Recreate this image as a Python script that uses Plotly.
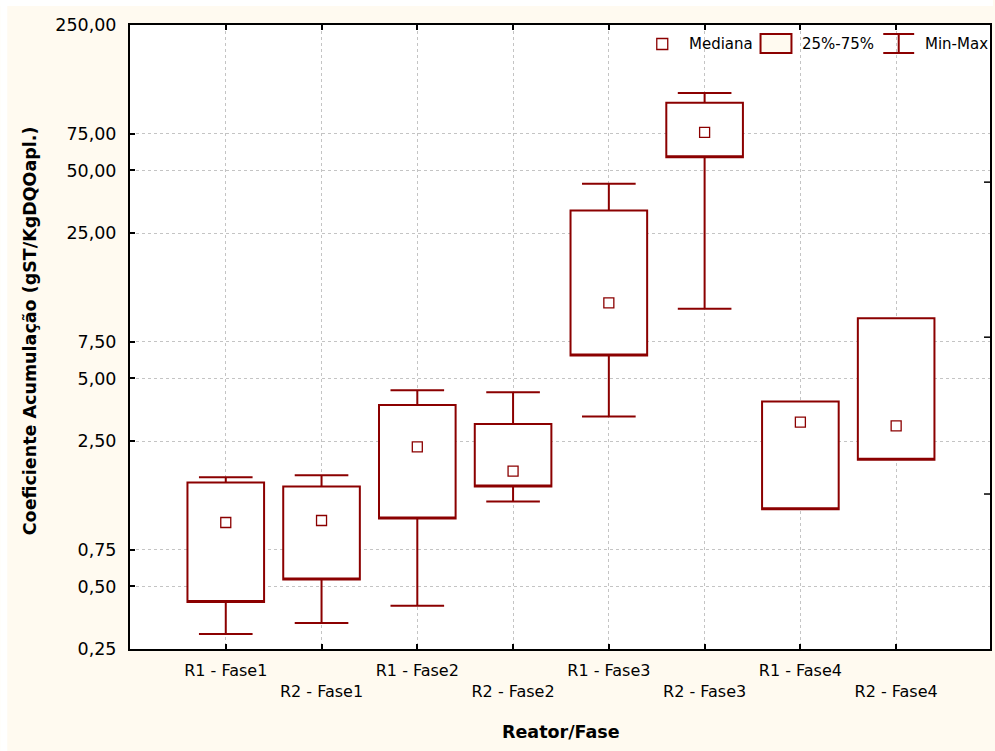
import math
import plotly.graph_objects as go

# ---------------- data ----------------
categories = ["R1 - Fase1", "R2 - Fase1", "R1 - Fase2", "R2 - Fase2",
              "R1 - Fase3", "R2 - Fase3", "R1 - Fase4", "R2 - Fase4"]
mins    = [0.295, 0.333, 0.403, 1.28, 3.28, 10.8, 1.175, 2.03]
q1      = [0.421, 0.539, 1.06, 1.51, 6.45, 57.8, 1.175, 2.03]
medians = [1.014, 1.037, 2.34, 1.79, 11.54, 76.2, 3.08, 2.955]
q3      = [1.578, 1.51, 3.72, 3.02, 32.1, 105.7, 3.87, 9.74]
maxs    = [1.674, 1.71, 4.39, 4.29, 43.1, 117.7, 3.87, 9.74]

y_tickvals = [0.25, 0.5, 0.75, 2.5, 5, 7.5, 25, 50, 75, 250]
y_ticktext = [f"{v:.2f}".replace(".", ",") for v in y_tickvals]
right_tickvals = [1.39, 7.89, 43.9]   # stray tick marks on the right frame

# ---------------- style ----------------
RED = "#8b0000"
CREAM = "#fffaf0"
FONT = "DejaVu Sans"
W, H = 995, 751
ML, MR, MT, MB = 130, 3, 25, 102
PW, PH = W - ML - MR, H - MT - MB


def px(x):
    return (x - ML) / PW


def py(y):
    return (H - MB - y) / PH


fig = go.Figure()

# boxes (median line hidden on the lower edge; medians drawn as square markers)
fig.add_trace(go.Box(
    x=categories, q1=q1, median=q1, q3=q3,
    lowerfence=mins, upperfence=maxs,
    fillcolor="white", line=dict(color=RED, width=2),
    width=0.8, whiskerwidth=0.7, boxpoints=False,
    showlegend=False, hoverinfo="skip",
))

fig.add_trace(go.Scatter(
    x=categories, y=medians, mode="markers",
    marker=dict(symbol="square", size=10, color="white",
                line=dict(color=RED, width=1.3)),
    showlegend=False, hoverinfo="skip",
))

ticktext_x = [c if i % 2 == 0 else "<br>" + c for i, c in enumerate(categories)]

fig.update_xaxes(
    type="category", range=[-1, 7.98],
    tickvals=categories, ticktext=ticktext_x,
    tickfont=dict(family=FONT, size=16, color="black"),
    ticks="inside", ticklen=5, tickwidth=1.5, tickcolor="black",
    showline=True, linecolor="black", linewidth=2, mirror="ticks",
    showgrid=True, gridcolor="#c4c4c4", gridwidth=1, griddash="dot",
    zeroline=False, ticklabelstandoff=6,
)
fig.update_yaxes(
    type="log", range=[math.log10(0.25), math.log10(250)],
    tickvals=y_tickvals, ticktext=y_ticktext,
    tickfont=dict(family=FONT, size=17.5, color="black"),
    ticks="inside", ticklen=5, tickwidth=1.5, tickcolor="black",
    showline=True, linecolor="black", linewidth=2, mirror=True,
    showgrid=True, gridcolor="#c4c4c4", gridwidth=1, griddash="dot",
    zeroline=False, ticklabelstandoff=8,
)

shapes = []
# stray ticks on the right frame
for v in right_tickvals:
    shapes.append(dict(type="line", xref="paper", yref="y",
                       x0=1, x1=1 - 6 / PW, y0=v, y1=v,
                       line=dict(color="black", width=1.5)))

# legend (drawn manually)
shapes.append(dict(type="rect", xref="paper", yref="paper",
                   x0=px(658), x1=px(669), y0=py(38.5), y1=py(49.5),
                   line=dict(color=RED, width=1.3), fillcolor="white"))
shapes.append(dict(type="rect", xref="paper", yref="paper",
                   x0=px(762), x1=px(793), y0=py(34), y1=py(53),
                   line=dict(color=RED, width=2), fillcolor=CREAM))
for yy in (34, 53):
    shapes.append(dict(type="line", xref="paper", yref="paper",
                       x0=px(885), x1=px(916), y0=py(yy), y1=py(yy),
                       line=dict(color=RED, width=2)))
shapes.append(dict(type="line", xref="paper", yref="paper",
                   x0=px(900.5), x1=px(900.5), y0=py(34), y1=py(53),
                   line=dict(color=RED, width=2)))

# thin white outer strips (top / left) around the cream panel
shapes.append(dict(type="rect", xref="paper", yref="paper", layer="above",
                   x0=px(0), x1=px(7), y0=py(751), y1=py(0),
                   line=dict(width=0), fillcolor="white"))
shapes.append(dict(type="rect", xref="paper", yref="paper", layer="above",
                   x0=px(0), x1=px(995), y0=py(6), y1=py(0),
                   line=dict(width=0), fillcolor="white"))

annotations = []
for label, xl in (("Mediana", 688), ("25%-75%", 801.5), ("Min-Max", 925)):
    annotations.append(dict(text=label, xref="paper", yref="paper",
                            x=px(xl), y=py(44), xanchor="left", yanchor="middle",
                            showarrow=False,
                            font=dict(family=FONT, size=15, color="black")))

annotations.append(dict(text="Coeficiente Acumulação (gST/KgDQOapl.)",
                        xref="paper", yref="paper", x=px(30), y=py(331),
                        xanchor="center", yanchor="middle", textangle=-90,
                        showarrow=False,
                        font=dict(family=FONT, size=17.5, color="black", weight="bold")))
annotations.append(dict(text="Reator/Fase", xref="paper", yref="paper",
                        x=px(562), y=py(732), xanchor="center", yanchor="middle",
                        showarrow=False,
                        font=dict(family=FONT, size=17.5, color="black", weight="bold")))

fig.update_layout(
    width=W, height=H,
    margin=dict(l=ML, r=MR, t=MT, b=MB, pad=0),
    paper_bgcolor=CREAM, plot_bgcolor="white",
    shapes=shapes, annotations=annotations,
    showlegend=False,
)

fig.write_html("out.html")
